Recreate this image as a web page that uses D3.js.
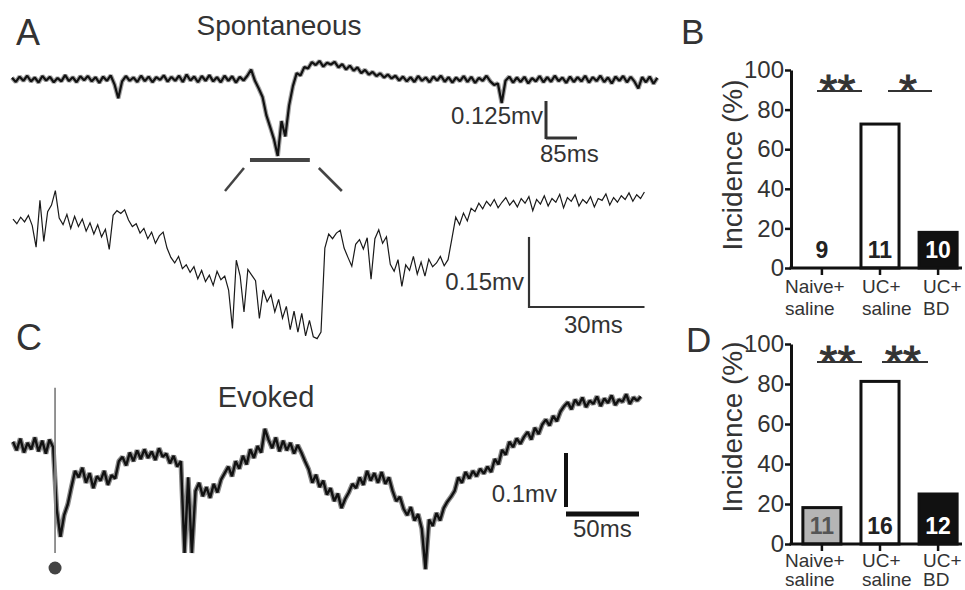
<!DOCTYPE html>
<html>
<head>
<meta charset="utf-8">
<script src="https://cdn.jsdelivr.net/npm/d3@7"></script>
<style>
  html, body { margin: 0; padding: 0; background: #fff; }
  svg { display: block; font-family: "Liberation Sans", Arial, sans-serif; }
</style>
</head>
<body>
<div id="chart"></div>
<script>
// ---- traces (µV relative to baseline, fixed sample step) ----
const spontDt = 10.4; // ms
const spontUV = [
  4,-10,8,-6,11,-8,5,-12,10,-5,
  7,-11,3,-8,13,-7,6,-11,9,-4,
  10,-8,6,-13,8,-6,12,-18,-65,-8,
  10,-6,5,-10,11,-7,8,-11,6,-3,
  12,-9,7,-6,11,-10,15,-5,8,-11,
  10,-6,13,-8,6,-11,11,-6,9,-12,
  7,-5,11,32,-6,-32,-61,-122,-162,-203,
  -260,-142,-194,-89,-24,20,12,40,36,57,
  47,61,42,55,49,58,39,50,32,45,
  28,39,20,31,15,24,10,19,5,15,
  2,11,-5,8,-8,6,-10,10,-6,5,
  -11,8,-5,11,-9,6,-12,5,-7,10,
  -10,7,-13,4,-6,11,-8,-20,-15,-81,
  -6,8,-12,5,-10,7,-15,3,-8,10,
  -11,6,-9,11,-7,5,-13,8,-10,6,
  -8,11,-12,6,-7,11,-10,5,-15,8,
  -6,10,-11,7,-9,-32,6,-11,8,-16,4
];
const zoomWindow = [652, 816]; // ms, section shown expanded

const expandedDt = 1; // ms
const expandedUV = [
  2,-8,6,-4,10,-12,-58,42,-46,18,
  32,63,4,-10,12,-18,8,-14,2,-24,
  -6,-30,-10,-36,-20,-63,10,20,14,22,
  0,-14,-8,-28,-18,-40,-26,-50,-34,-26,
  -60,-80,-92,-78,-104,-96,-112,-100,-126,-108,
  -132,-118,-140,-110,-128,-120,-150,-232,-86,-120,
  -197,-106,-118,-130,-211,-150,-175,-160,-197,-170,
  -210,-185,-235,-195,-240,-200,-248,-215,-250,-254,
  -240,-60,-30,-40,-28,-22,-60,-80,-99,-52,
  -42,-62,-38,-127,-40,-21,-50,-36,-95,-110,
  -85,-142,-96,-108,-78,-116,-90,-120,-84,-100,
  -92,-78,-98,-85,-40,6,-10,15,-2,25,
  18,36,24,40,30,44,26,38,48,32,
  42,28,46,36,50,20,44,34,52,30,
  46,38,55,26,48,40,54,30,44,36,
  50,28,46,42,56,32,48,38,52,44,
  58,40,54,46,60
];

const evokedDt = 2.5; // ms
const evokedUV = [
  6,-10,12,-14,4,-8,14,-12,8,-16,
  10,-4,-120,-170,-130,-110,-78,-48,-60,-42,
  -70,-52,-80,-58,-66,-48,-74,-56,-62,-30,
  -22,-38,-14,-30,-10,-26,-8,-24,-12,-28,
  -6,-22,-16,-34,-20,-40,-30,-200,-60,-200,
  -85,-70,-95,-78,-98,-72,-88,-64,-52,-40,
  -58,-30,-44,-20,-36,-8,-24,-2,-14,30,
  10,-6,14,-12,8,-10,4,-16,0,-14,
  -30,-45,-70,-55,-78,-66,-92,-80,-104,-90,
  -117,-100,-88,-72,-80,-60,-74,-48,-66,-52,
  -70,-50,-72,-60,-85,-104,-96,-118,-130,-115,
  -140,-128,-155,-230,-138,-150,-126,-140,-117,-105,
  -96,-85,-60,-70,-50,-62,-48,-58,-44,-53,
  -40,-50,-26,-36,-9,-18,6,-4,12,2,
  15,24,10,32,20,38,47,36,54,44,
  62,72,79,66,84,74,88,70,82,76,
  90,72,86,78,92,74,84,80,94,76,
  88,82,90
];
const stimTime = 28.8;          // ms
const stimRange = [-200, 106];  // µV extent of stimulus artifact

// scale bars: [µV, ms]
const spontBar = [125, 85];
const expandedBar = [150, 30];
const evokedBar = [100, 50];

// ---- incidence bar charts ----
const groupLines = [["Naive+", "saline"], ["UC+", "saline"], ["UC+", "BD"]];
const spontIncidence = [0, 72.7, 18];
const spontN = [9, 11, 10];
const spontSig = ["**", "*"];
const evokedIncidence = [18.2, 81.3, 25];
const evokedN = [11, 16, 12];
const evokedSig = ["**", "**"];
const yTicks = [0, 20, 40, 60, 80, 100];

const W = 965, H = 590;
const TXT = "#333";
const svg = d3.select("#chart").append("svg").attr("width", W).attr("height", H);
svg.append("rect").attr("width", W).attr("height", H).attr("fill", "#fff");

function txt(g, x, y, s, size, o = {}) {
  return g.append("text").attr("x", x).attr("y", y)
    .attr("font-size", size + "px").attr("fill", o.fill || TXT)
    .attr("text-anchor", o.anchor || "start")
    .attr("font-weight", o.weight || "normal").text(s);
}
function seg(g, x1, y1, x2, y2, w, c) {
  g.append("line").attr("x1", x1).attr("y1", y1).attr("x2", x2).attr("y2", y2)
    .attr("stroke", c || "#333").attr("stroke-width", w);
}

// panel letters
txt(svg, 16, 45, "A", 36);
txt(svg, 681, 44, "B", 35);
txt(svg, 16, 350, "C", 36);
txt(svg, 686, 352, "D", 35);

// ---------- A: spontaneous ----------
const gA = svg.append("g");
txt(gA, 279, 35, "Spontaneous", 28, { anchor: "middle" });
const spMs = (spontUV.length - 1) * spontDt;
const xS = d3.scaleLinear().domain([0, spMs]).range([12, 12 + spMs * 0.365]);
const yS = d3.scaleLinear().domain([-300, 100]).range([79 + 300 * 0.296, 79 - 100 * 0.296]);
const lineS = d3.line().x((d, i) => xS(i * spontDt)).y(d => yS(d));
gA.append("path").attr("d", lineS(spontUV)).attr("fill", "none")
  .attr("stroke", "#555").attr("stroke-width", 4.5).attr("stroke-opacity", 0.55)
  .attr("stroke-linejoin", "bevel");
gA.append("path").attr("d", lineS(spontUV)).attr("fill", "none")
  .attr("stroke", "#111").attr("stroke-width", 2.2).attr("stroke-linejoin", "bevel");

// scale bar
{
  const vx = 546, vy = 138;
  const vLen = yS(0) - yS(spontBar[0]);
  const hLen = xS(spontBar[1]) - xS(0);
  seg(gA, vx, vy - vLen, vx, vy + 1, 3, "#333");
  seg(gA, vx, vy, vx + hLen, vy, 3, "#333");
  txt(gA, vx - 3, 124, "0.125mv", 24, { anchor: "end" });
  txt(gA, 540, 162, "85ms", 24);
}
// zoom indicator
{
  const x1 = xS(zoomWindow[0]), x2 = xS(zoomWindow[1]);
  seg(gA, x1, 160, x2, 160, 4, "#444");
  seg(gA, x1 - 6, 168, x1 - 25, 191, 2.5, "#444");
  seg(gA, x2 + 9, 168, x2 + 32, 191, 2.5, "#444");
}

// expanded trace
const exMs = (expandedUV.length - 1) * expandedDt;
const xE = d3.scaleLinear().domain([0, exMs]).range([13, 13 + exMs * 3.85]);
const yE = d3.scaleLinear().domain([-300, 100]).range([220 + 300 * 0.467, 220 - 100 * 0.467]);
gA.append("path").attr("d", d3.line().x((d, i) => xE(i * expandedDt)).y(d => yE(d))(expandedUV))
  .attr("fill", "none").attr("stroke", "#1a1a1a").attr("stroke-width", 1.2);
{
  const vx = 529, vy = 307;
  const vLen = yE(0) - yE(expandedBar[0]);
  const hLen = xE(expandedBar[1]) - xE(0);
  seg(gA, vx, vy - vLen, vx, vy + 1, 2.2, "#333");
  seg(gA, vx, vy, vx + hLen, vy, 2.2, "#333");
  txt(gA, 524, 290, "0.15mv", 24, { anchor: "end" });
  txt(gA, 564, 333, "30ms", 24);
}

// ---------- C: evoked ----------
const gC = svg.append("g");
txt(gC, 266, 407, "Evoked", 29, { anchor: "middle" });
const evMs = (evokedUV.length - 1) * evokedDt;
const xV = d3.scaleLinear().domain([0, evMs]).range([13, 13 + evMs * 1.46]);
const yV = d3.scaleLinear().domain([-300, 150]).range([445 + 300 * 0.54, 445 - 150 * 0.54]);
const lineV = d3.line().x((d, i) => xV(i * evokedDt)).y(d => yV(d));
gC.append("path").attr("d", lineV(evokedUV)).attr("fill", "none")
  .attr("stroke", "#8a8a8a").attr("stroke-width", 5).attr("stroke-linejoin", "bevel");
gC.append("path").attr("d", lineV(evokedUV)).attr("fill", "none")
  .attr("stroke", "#111").attr("stroke-width", 2.4).attr("stroke-linejoin", "bevel");
seg(gC, xV(stimTime), yV(stimRange[1]), xV(stimTime), yV(stimRange[0]), 1.8, "#888");
gC.append("circle").attr("cx", xV(stimTime)).attr("cy", 568).attr("r", 6.5).attr("fill", "#444");
{
  const vx = 566, vy = 507;
  const vLen = yV(0) - yV(evokedBar[0]);
  const hLen = xV(evokedBar[1]) - xV(0);
  seg(gC, vx, vy - vLen, vx, vy, 4, "#111");
  seg(gC, vx, 514, vx + hLen, 514, 5, "#111");
  txt(gC, 557, 502, "0.1mv", 24, { anchor: "end" });
  txt(gC, 573, 537, "50ms", 24);
}

// ---------- B / D: incidence bars ----------
const x = d3.scaleBand().domain(d3.range(groupLines.length)).range([793, 967]).paddingInner(0.345).paddingOuter(0.17);

function barChart(top, bottom, values, ns, sig, fills, numFills, sigY, sigLines, titleY, labelDy) {
  const g = svg.append("g");
  const y = d3.scaleLinear().domain([0, 100]).range([bottom, top]);
  const axisX = 791;

  g.selectAll("rect.bar").data(values).enter().append("rect")
    .attr("x", (d, i) => x(i)).attr("width", x.bandwidth())
    .attr("y", d => y(d)).attr("height", d => y(0) - y(d))
    .attr("fill", (d, i) => fills[i]).attr("stroke", "#111").attr("stroke-width", 3)
    .style("display", d => d > 0 ? null : "none");

  const ax = g.append("g").attr("transform", `translate(${axisX},0)`)
    .call(d3.axisLeft(y).tickValues(yTicks).tickSize(6).tickSizeOuter(0).tickPadding(1));
  ax.select(".domain").attr("stroke", "#111").attr("stroke-width", 3);
  ax.selectAll(".tick line").attr("stroke", "#111").attr("stroke-width", 2.5);
  ax.selectAll(".tick text").attr("font-size", "24px").attr("fill", TXT)
    .attr("font-family", "Liberation Sans, Arial, sans-serif");

  seg(g, axisX - 1.5, y(0), 962, y(0), 3, "#111");
  values.forEach((d, i) => {
    const cx = x(i) + x.bandwidth() / 2;
    seg(g, cx, y(0), cx, y(0) + 7, 2.5, "#111");
    txt(g, cx, y(0) - 10, ns[i], 23, { anchor: "middle", weight: "bold", fill: numFills[i] });
  });

  const labelX = [785, 862, 923];
  groupLines.forEach((ls, i) => {
    txt(g, labelX[i], y(0) + labelDy[0], ls[0], 19);
    txt(g, labelX[i], y(0) + labelDy[1], ls[1], 19);
  });

  sig.forEach((s, i) => {
    const [a, b] = sigLines[i];
    seg(g, a, sigY, b, sigY, 2, "#333");
    txt(g, (a + b) / 2 - 2, sigY + 16, s, 46, { anchor: "middle" })
      .attr("stroke", "#333").attr("stroke-width", 1);
  });

  g.append("text").attr("transform", `translate(742,${titleY}) rotate(-90)`)
    .attr("text-anchor", "middle").attr("font-size", "28px").attr("fill", TXT)
    .text("Incidence (%)");
}

barChart(70, 268, spontIncidence, spontN, spontSig,
  ["#b5b5b5", "#fff", "#111"], ["#222", "#222", "#fff"],
  91, [[817, 862], [888, 932]], 165, [25, 47]);
barChart(344, 544, evokedIncidence, evokedN, evokedSig,
  ["#b5b5b5", "#fff", "#111"], ["#555", "#222", "#fff"],
  362, [[817, 862], [882, 928]], 427, [23, 42]);
</script>
</body>
</html>
